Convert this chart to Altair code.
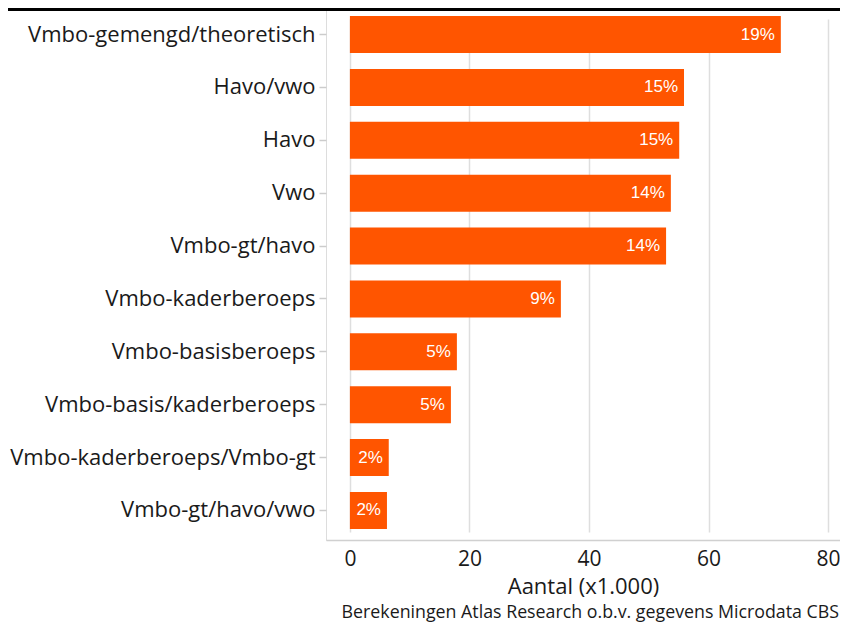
import altair as alt
import pandas as pd

categories = [
    "Vmbo-gemengd/theoretisch",
    "Havo/vwo",
    "Havo",
    "Vwo",
    "Vmbo-gt/havo",
    "Vmbo-kaderberoeps",
    "Vmbo-basisberoeps",
    "Vmbo-basis/kaderberoeps",
    "Vmbo-kaderberoeps/Vmbo-gt",
    "Vmbo-gt/havo/vwo",
]
values = [72.1, 55.9, 55.1, 53.7, 52.9, 35.3, 17.9, 16.9, 6.5, 6.2]
labels = ["19%", "15%", "15%", "14%", "14%", "9%", "5%", "5%", "2%", "2%"]
x_ticks = [0, 20, 40, 60, 80]
x_title = "Aantal (x1.000)"
caption = "Berekeningen Atlas Research o.b.v. gegevens Microdata CBS"

df = pd.DataFrame({"cat": categories, "value": values, "pct": labels})

W, H = 514, 532
PAD_L, PAD_B = 318, 82

y_enc = alt.Y(
    "cat:N",
    sort=categories,
    scale=alt.Scale(range=[8, 521], paddingInner=0.3, paddingOuter=0),
    axis=alt.Axis(
        title=None,
        labelFont="Open Sans",
        labelFontSize=22,
        labelColor="#1a1a1a",
        labelPadding=4,
        labelLimit=0,
        tickColor="#cccccc",
        tickSize=7,
        tickWidth=1.5,
        domain=False,
        grid=False,
    ),
)
x_enc = alt.X(
    "value:Q",
    scale=alt.Scale(domain=[-4, 82], nice=False, zero=False),
    axis=alt.Axis(
        values=x_ticks,
        title=x_title,
        titleFont="Open Sans",
        titleFontSize=22,
        titleFontWeight="normal",
        titleColor="#1a1a1a",
        titlePadding=7,
        labelFont="Open Sans",
        labelFontSize=21,
        labelColor="#1a1a1a",
        labelPadding=8,
        ticks=False,
        domainColor="#d0d0d0",
        domainWidth=1.5,
        grid=True,
        gridColor="#dedede",
        gridWidth=1.5,
    ),
)

base = alt.Chart(df)
bars = base.mark_bar(color="#FF5500").encode(x=x_enc, x2=alt.datum(0), y=y_enc)
texts = base.mark_text(
    align="right", baseline="middle", dx=-6, color="white",
    font="Liberation Sans", fontSize=17
).encode(x="value:Q", y=alt.Y("cat:N", sort=categories), text="pct:N")

top_line = alt.Chart(pd.DataFrame({"a": [0]})).mark_rule(
    color="black", strokeWidth=3
).encode(x=alt.value(-PAD_L), x2=alt.value(W + 10), y=alt.value(1.5))

cap = alt.Chart(pd.DataFrame({"t": [caption]})).mark_text(
    align="right", baseline="alphabetic", font="Open Sans", fontSize=17.8,
    color="#1a1a1a"
).encode(x=alt.value(W - 1), y=alt.value(610), text="t:N")

chart = alt.layer(bars, texts, top_line, cap).properties(
    width=W,
    height=H,
    autosize=alt.AutoSizeParams(type="none"),
    padding={"left": PAD_L, "top": 0, "right": 0, "bottom": PAD_B},
).configure_view(stroke=None).configure(background="white")

chart.save("out.html", embed_options={"renderer": "svg", "actions": False})
